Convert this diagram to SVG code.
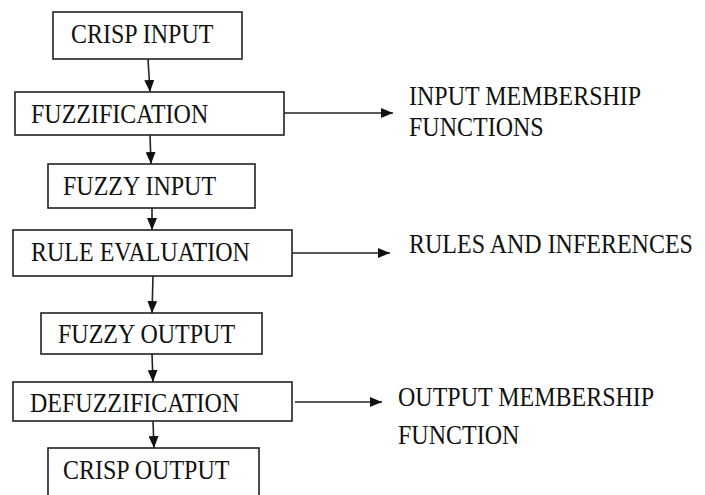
<svg xmlns="http://www.w3.org/2000/svg" width="705" height="495" viewBox="0 0 705 495">
<defs>
<marker id="ah" viewBox="0 0 12 10" refX="12" refY="5" markerWidth="12" markerHeight="10" markerUnits="userSpaceOnUse" orient="auto">
<path d="M0,0 L12,5 L0,10 Z" fill="#111"/>
</marker>
<style>
.box{fill:#fff;stroke:#222;stroke-width:1.6}
.t{font-family:"Liberation Serif","Times New Roman",serif;font-size:24px;fill:#111}
.c{fill:none;stroke:#222;stroke-width:1.6;marker-end:url(#ah)}
</style>
</defs>
<rect width="705" height="495" fill="#fff"/>
<g id="connectors">
<line class="c" x1="148" y1="59" x2="150" y2="92"/>
<line class="c" x1="150" y1="135" x2="151" y2="164"/>
<line class="c" x1="152" y1="208" x2="152" y2="230"/>
<line class="c" x1="153" y1="276" x2="152" y2="313"/>
<line class="c" x1="152" y1="354" x2="153" y2="382"/>
<line class="c" x1="153" y1="421" x2="154" y2="448"/>
<line class="c" x1="284" y1="113" x2="393" y2="113"/>
<line class="c" x1="292" y1="253" x2="390" y2="253"/>
<line class="c" x1="295" y1="402" x2="382" y2="402"/>
</g>
<g id="crisp-input">
<rect class="box" x="53" y="12" width="189" height="47"/>
<text class="t" transform="translate(71,43) scale(1,1.1)">CRISP INPUT</text>
</g>
<g id="fuzzification">
<rect class="box" x="15" y="92" width="269" height="43"/>
<text class="t" transform="translate(31,123) scale(1,1.1)">FUZZIFICATION</text>
</g>
<g id="input-membership">
<text class="t" transform="translate(409,105) scale(1,1.1)">INPUT MEMBERSHIP</text>
<text class="t" transform="translate(409,136) scale(1,1.1)">FUNCTIONS</text>
</g>
<g id="fuzzy-input">
<rect class="box" x="48" y="164" width="207" height="44"/>
<text class="t" transform="translate(63,195) scale(1,1.1)">FUZZY INPUT</text>
</g>
<g id="rule-evaluation">
<rect class="box" x="13" y="230" width="279" height="46"/>
<text class="t" transform="translate(31,261) scale(1,1.1)">RULE EVALUATION</text>
</g>
<g id="rules-inferences">
<text class="t" transform="translate(409,253) scale(1,1.1)">RULES AND INFERENCES</text>
</g>
<g id="fuzzy-output">
<rect class="box" x="41" y="313" width="221" height="41"/>
<text class="t" transform="translate(58,343) scale(1,1.1)">FUZZY OUTPUT</text>
</g>
<g id="defuzzification">
<rect class="box" x="13" y="382" width="279" height="39"/>
<text class="t" transform="translate(30,412) scale(1,1.1)">DEFUZZIFICATION</text>
</g>
<g id="output-membership">
<text class="t" transform="translate(398,406) scale(1,1.1)">OUTPUT MEMBERSHIP</text>
<text class="t" transform="translate(398,444) scale(1,1.1)">FUNCTION</text>
</g>
<g id="crisp-output">
<rect class="box" x="48" y="448" width="211" height="60"/>
<text class="t" transform="translate(63,479) scale(1,1.1)">CRISP OUTPUT</text>
</g>
</svg>
